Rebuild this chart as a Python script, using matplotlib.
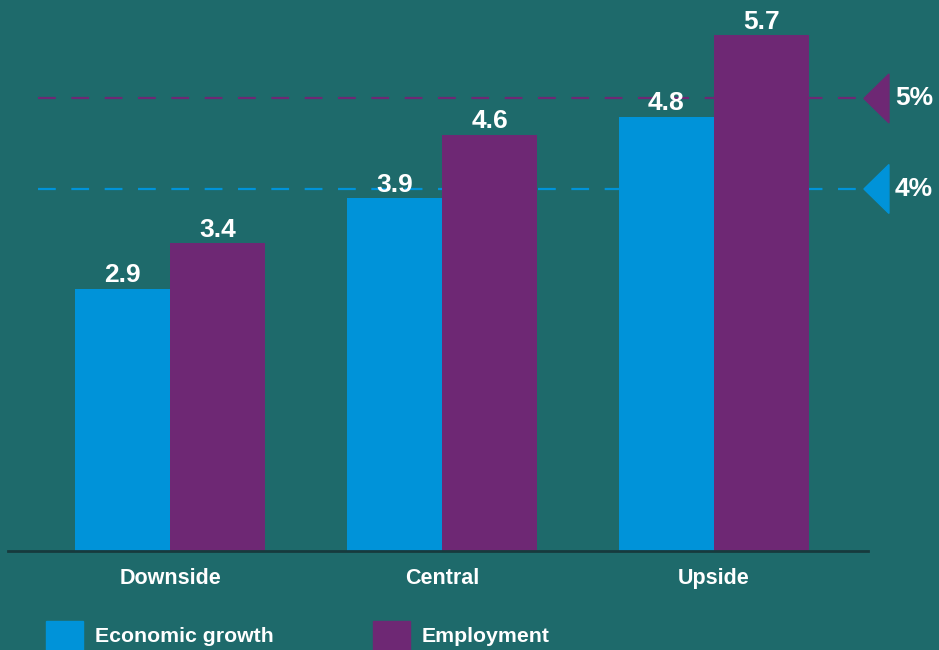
import numpy as np
import matplotlib.pyplot as plt
from matplotlib.patches import Polygon, Rectangle

plt.rcParams['font.family'] = ['Liberation Sans', 'DejaVu Sans']

# scenario values
scenarios = ['Downside', 'Central', 'Upside']
growth = [2.9, 3.9, 4.8]
employment = [3.4, 4.6, 5.7]
series_names = ['Economic growth', 'Employment']
targets = [5, 4]          # employment target, growth target
target_labels = ['5%', '4%']

bg = '#1e6a6b'
blue = '#0093d9'
purple = '#6e2874'
white = 'white'

fig = plt.figure(figsize=(9.39, 6.5), dpi=100, facecolor=bg)
ax = fig.add_axes([8 / 939, 99 / 650, 860 / 939, 551 / 650])
ax.set_facecolor(bg)

x = np.arange(len(scenarios))
w = 0.35

# target lines behind the bars
target_colors = [purple, blue]
for t, c in zip(targets, target_colors):
    ax.plot([-0.485, 2.54], [t, t], color=c, lw=1.6, dashes=(8, 7), zorder=1)

b1 = ax.bar(x - w / 2, growth, w, color=blue, zorder=2)
b2 = ax.bar(x + w / 2, employment, w, color=purple, zorder=2)

for bars, vals in [(b1, growth), (b2, employment)]:
    for r, v in zip(bars, vals):
        ax.annotate(f'{v:.1f}', (r.get_x() + r.get_width() / 2, v),
                    xytext=(0, 1), textcoords='offset points',
                    ha='center', va='bottom', color=white,
                    fontsize=19, fontweight='bold')

# triangle markers and labels for the targets
for t, c, lab in zip(targets, target_colors, target_labels):
    tri = Polygon([[2.551, t], [2.643, t + 0.27], [2.643, t - 0.27]],
                  closed=True, color=c, clip_on=False, zorder=3)
    ax.add_patch(tri)
    ax.text(2.665, t, lab, color=white, fontsize=19, fontweight='bold',
            ha='left', va='center', clip_on=False)

ax.set_xlim(-0.596, 2.566)
ax.set_ylim(0, 6.088)
ax.set_xticks(x)
ax.set_xticklabels(scenarios, color=white, fontsize=15.5, fontweight='bold')
ax.tick_params(axis='x', length=0, pad=12)
ax.set_yticks([])
for s in ['top', 'right', 'left']:
    ax.spines[s].set_visible(False)
ax.spines['bottom'].set_color('#173a3d')
ax.spines['bottom'].set_linewidth(2)

# legend along the bottom
for name, c, x0 in zip(series_names, [blue, purple], [46, 373]):
    fig.patches.append(Rectangle((x0 / 939, -0.01), 37 / 939, 29 / 650 + 0.01,
                                 transform=fig.transFigure, color=c))
    fig.text((x0 + 49) / 939, 1 - 637 / 650, name, color=white,
             fontsize=15.3, fontweight='bold', ha='left', va='center')

fig.savefig('out.png', dpi=100, facecolor=bg)
